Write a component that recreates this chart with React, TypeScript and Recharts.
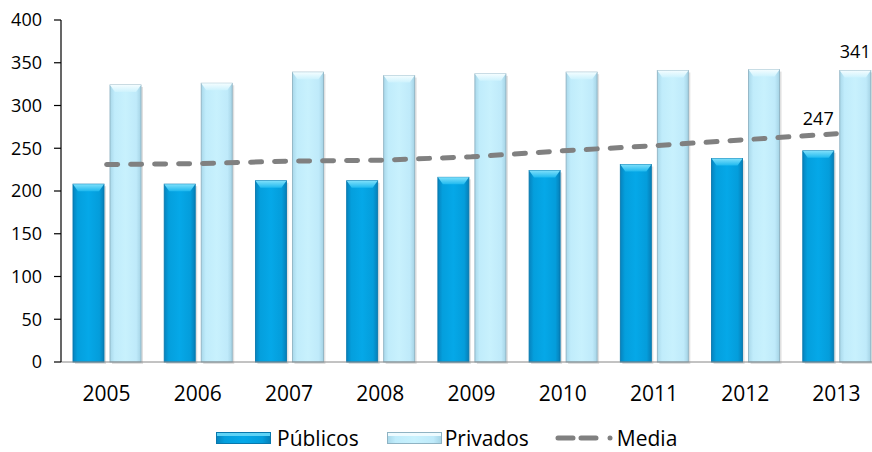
import React from "react";
import {
  ComposedChart,
  Bar,
  Line,
  XAxis,
  YAxis,
  Legend,
  LabelList,
} from "recharts";

const years = ["2005", "2006", "2007", "2008", "2009", "2010", "2011", "2012", "2013"];
const publicos = [208, 208, 212, 212, 216, 224, 231, 238, 247];
const privados = [324, 326, 339, 335, 337, 339, 341, 342, 341];
const media = [231, 232, 235, 236, 240, 247, 253, 260, 267];
const yTicks = [0, 50, 100, 150, 200, 250, 300, 350, 400];

const data = years.map((year, i) => ({
  year,
  publicos: publicos[i],
  privados: privados[i],
  media: media[i],
}));

const FONT = "'Open Sans', 'Noto Sans', sans-serif";

function BevelBar(props: any) {
  const { x, y, width, height, kind } = props;
  if (!height || height <= 0) return null;
  const pub = kind === "pub";
  const b = 7;
  return (
    <g>
      <rect x={x + 2} y={y + 2} width={width} height={height} fill="#000" opacity={0.12} />
      <rect
        x={x}
        y={y}
        width={width}
        height={height}
        fill={pub ? "url(#pubBody)" : "url(#privBody)"}
        stroke={pub ? "#0878ad" : "#8fb3c3"}
        strokeWidth={0.9}
      />
      <polygon
        points={`${x},${y} ${x + width},${y} ${x + width - 5},${y + b} ${x + 5},${y + b}`}
        fill={pub ? "url(#pubTop)" : "url(#privTop)"}
      />
    </g>
  );
}

function EndLabel(lift: number) {
  return (props: any) => {
    const { x, y, width, value, index } = props;
    if (index !== years.length - 1) return null;
    return (
      <text
        x={x + width / 2}
        y={y - lift}
        textAnchor="middle"
        fontSize={18}
        fontFamily={FONT}
        fill="#000"
      >
        {value}
      </text>
    );
  };
}

function LegendContent() {
  return (
    <div
      style={{
        display: "flex",
        alignItems: "center",
        paddingLeft: 216,
        paddingTop: 12,
        height: 28,
        fontFamily: FONT,
        fontSize: 21,
        color: "#000",
        lineHeight: "28px",
        whiteSpace: "nowrap",
      }}
    >
      <svg width={55} height={12} style={{ marginRight: 6 }}>
        <rect x={0.5} y={0.5} width={54} height={11} fill="url(#pubBody)" stroke="#0878ad" />
        <rect x={1} y={1} width={53} height={3} fill="#5fd3f6" />
      </svg>
      <span style={{ marginRight: 28 }}>Públicos</span>
      <svg width={55} height={12} style={{ marginRight: 3 }}>
        <rect x={0.5} y={0.5} width={54} height={11} fill="url(#privBody)" stroke="#8fb3c3" />
        <rect x={1} y={1} width={53} height={3} fill="#eefbff" />
      </svg>
      <span style={{ marginRight: 26 }}>Privados</span>
      <svg width={60} height={12} style={{ marginRight: 2 }}>
        <line x1={3} y1={6} x2={44} y2={6} stroke="#808080" strokeWidth={5} strokeLinecap="round" strokeDasharray="15 8" />
        <circle cx={55} cy={6} r={2.5} fill="#808080" />
      </svg>
      <span>Media</span>
    </div>
  );
}

export default function App() {
  return (
    <div
      style={{
        position: "absolute",
        left: 0,
        top: 0,
        width: 872,
        height: 452,
        overflow: "hidden",
        background: "#fff",
      }}
    >
      <svg width={0} height={0} style={{ position: "absolute" }}>
        <defs>
          <linearGradient id="pubBody" x1="0" y1="0" x2="1" y2="0">
            <stop offset="0%" stopColor="#0683be" />
            <stop offset="15%" stopColor="#049fdd" />
            <stop offset="50%" stopColor="#05a8e8" />
            <stop offset="85%" stopColor="#049ddb" />
            <stop offset="100%" stopColor="#067fb8" />
          </linearGradient>
          <linearGradient id="pubTop" x1="0" y1="0" x2="0" y2="1">
            <stop offset="0%" stopColor="#7fe0fb" />
            <stop offset="100%" stopColor="#1fb9ef" />
          </linearGradient>
          <linearGradient id="privBody" x1="0" y1="0" x2="1" y2="0">
            <stop offset="0%" stopColor="#a9d8ea" />
            <stop offset="15%" stopColor="#c0ecfb" />
            <stop offset="50%" stopColor="#c8f1fd" />
            <stop offset="85%" stopColor="#bfeafa" />
            <stop offset="100%" stopColor="#a5d3e5" />
          </linearGradient>
          <linearGradient id="privTop" x1="0" y1="0" x2="0" y2="1">
            <stop offset="0%" stopColor="#f4fdff" />
            <stop offset="100%" stopColor="#cdf2fd" />
          </linearGradient>
        </defs>
      </svg>
      <ComposedChart
        width={882}
        height={452}
        data={data}
        margin={{ top: 20, right: 0, bottom: 0, left: 0 }}
        barGap={6}
        barSize={31}
      >
        <XAxis
          dataKey="year"
          axisLine={{ stroke: "#868686", strokeWidth: 1 }}
          tickLine={false}
          tickSize={0}
          tickMargin={24}
          height={50}
          tick={{ fontSize: 21, fontFamily: FONT, fill: "#000" }}
        />
        <YAxis
          domain={[0, 400]}
          ticks={yTicks}
          interval={0}
          width={61}
          axisLine={{ stroke: "#000", strokeWidth: 1.2 }}
          tickLine={{ stroke: "#000", strokeWidth: 1.2 }}
          tickSize={7}
          tickMargin={12}
          tick={{ fontSize: 18, fontFamily: FONT, fill: "#000" }}
        />
        <Legend verticalAlign="bottom" height={40} content={<LegendContent />} />
        <Bar
          dataKey="publicos"
          name="Públicos"
          isAnimationActive={false}
          shape={(p: any) => <BevelBar {...p} kind="pub" />}
        >
          <LabelList dataKey="publicos" content={EndLabel(26)} />
        </Bar>
        <Bar
          dataKey="privados"
          name="Privados"
          isAnimationActive={false}
          shape={(p: any) => <BevelBar {...p} kind="priv" />}
        >
          <LabelList dataKey="privados" content={EndLabel(12)} />
        </Bar>
        <Line
          dataKey="media"
          name="Media"
          type="linear"
          stroke="#808080"
          strokeWidth={5}
          strokeDasharray="11 13"
          strokeLinecap="round"
          dot={false}
          activeDot={false}
          isAnimationActive={false}
        />
      </ComposedChart>
    </div>
  );
}
